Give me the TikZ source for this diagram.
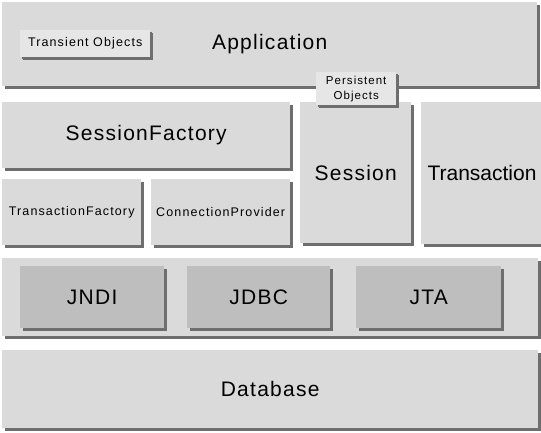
\documentclass[tikz,border=0pt]{standalone}
\usepackage{fontspec}
\setmainfont{Liberation Sans}
\usetikzlibrary{shadows}
\definecolor{layergray}{RGB}{218,218,218}
\definecolor{partgray}{RGB}{190,190,190}
\definecolor{taggray}{RGB}{230,230,230}
\definecolor{shadowgray}{RGB}{110,110,110}
\newfontfamily\spacedfont[LetterSpace=6]{Liberation Sans}
\newfontfamily\spacedsmallfont[LetterSpace=9]{Liberation Sans}
\tikzset{
  layer/.style={fill=layergray, anchor=north west, inner sep=0pt,
    drop shadow={shadow xshift=3pt, shadow yshift=-3pt, fill=shadowgray, opacity=1}},
  part/.style={layer, fill=partgray},
  tag/.style={layer, fill=taggray,
    drop shadow={shadow xshift=2pt, shadow yshift=-2pt, fill=shadowgray, opacity=1}},
  big/.style={font=\spacedfont\fontsize{21}{24}\selectfont},
  small/.style={font=\spacedsmallfont\fontsize{12.5}{14}\selectfont},
  tiny/.style={font=\spacedsmallfont\fontsize{11.5}{15}\selectfont}
}
\begin{document}
\begin{tikzpicture}[x=1pt, y=-1pt]
		%%%%% START %%%%%
		\useasboundingbox (0,0) rectangle (541,432);
		\clip (0,0) rectangle (541,432);
		\fill[white] (0,0) rectangle (541,432);
		
		% application layer
		\node[layer, big, minimum width=535pt, minimum height=84pt] (app) at (2,2) {Application};
		\node[tag, small, minimum width=130pt, minimum height=27pt] (transient) at (20,30) {Transient Objects};
		
		% hibernate core
		\node[layer, big, minimum width=288pt, minimum height=66pt] (sfactory) at (2,102) {SessionFactory};
		\node[layer, small, minimum width=139pt, minimum height=66pt] (tfactory) at (2,179) {TransactionFactory};
		\node[layer, small, minimum width=139pt, minimum height=66pt] (cprovider) at (151,179) {ConnectionProvider};
		\node[layer, big, minimum width=111pt, minimum height=141pt] (session) at (300,102) {Session};
		\node[layer, minimum width=140pt, minimum height=142pt,
		      label={[font=\fontsize{21}{24}\selectfont, anchor=west, xshift=3pt]west:Transaction}] (transaction) at (421,102) {};
		\node[tag, tiny, align=center, minimum width=80pt, minimum height=33pt] (persistent) at (316,72) {Persistent\\Objects};
		
		% java apis
		\node[layer, minimum width=536pt, minimum height=78pt] (apis) at (2,258) {};
		\node[part, big, minimum width=144pt, minimum height=62pt] (jndi) at (20,266) {JNDI};
		\node[part, big, minimum width=143pt, minimum height=62pt] (jdbc) at (187,266) {JDBC};
		\node[part, big, minimum width=145pt, minimum height=62pt] (jta) at (356,266) {JTA};
		
		% database
		\node[layer, big, minimum width=536pt, minimum height=78pt] (db) at (2,350) {Database};
		
		%%%%% END %%%%%
	\end{tikzpicture}
\end{document}
